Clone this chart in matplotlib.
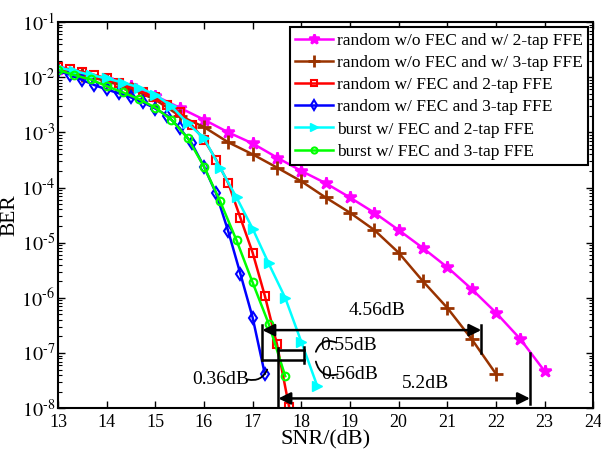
import matplotlib
matplotlib.use('Agg')
import matplotlib.pyplot as plt
from matplotlib.ticker import FuncFormatter
import numpy as np

''' data read off the figure '''
snr_half = [13, 13.5, 14, 14.5, 15, 15.5, 16, 16.5, 17, 17.5, 18, 18.5, 19, 19.5,
            20, 20.5, 21, 21.5, 22, 22.5, 23]
ber_nofec_2tap = [1.4e-2, 1.15e-2, 9e-3, 6.8e-3, 4.6e-3, 2.8e-3, 1.7e-3, 1.0e-3, 6.3e-4,
                  3.5e-4, 2.0e-4, 1.2e-4, 6.6e-5, 3.5e-5, 1.7e-5, 8e-6, 3.6e-6, 1.45e-6,
                  5.4e-7, 1.8e-7, 4.7e-8]
snr_nofec_3tap = [13, 13.5, 14, 14.5, 15, 15.5, 16, 16.5, 17, 17.5, 18, 18.5, 19, 19.5,
                  20, 20.5, 21, 21.5, 22]
ber_nofec_3tap = [1.4e-2, 1.1e-2, 8.5e-3, 6.2e-3, 3.9e-3, 2.0e-3, 1.25e-3, 6.6e-4, 4e-4,
                  2.3e-4, 1.3e-4, 6.6e-5, 3.5e-5, 1.7e-5, 6.6e-6, 2.0e-6, 6.6e-7, 1.8e-7,
                  4.2e-8]

snr_fec_2tap = [13, 13.25, 13.5, 13.75, 14, 14.25, 14.5, 14.75, 15, 15.25, 15.5, 15.75,
                16, 16.25, 16.5, 16.75, 17, 17.25, 17.5, 17.75]
ber_fec_2tap = [1.5e-2, 1.4e-2, 1.25e-2, 1.1e-2, 9.5e-3, 8e-3, 6.5e-3, 5.3e-3, 4.3e-3,
                3.2e-3, 2.3e-3, 1.35e-3, 7.4e-4, 3.2e-4, 1.2e-4, 2.8e-5, 6.6e-6, 1.1e-6,
                1.45e-7, 1.05e-8]
snr_fec_3tap = [13, 13.25, 13.5, 13.75, 14, 14.25, 14.5, 14.75, 15, 15.25, 15.5, 15.75,
                16, 16.25, 16.5, 16.75, 17, 17.25]
ber_fec_3tap = [1.3e-2, 1.1e-2, 8.9e-3, 7.2e-3, 6.0e-3, 5.1e-3, 4.3e-3, 3.5e-3, 2.7e-3,
                2.0e-3, 1.2e-3, 6.3e-4, 2.4e-4, 7.8e-5, 1.6e-5, 2.7e-6, 4.4e-7, 4.2e-8]

snr_burst_2tap = [13, 13.33, 13.67, 14, 14.33, 14.67, 15, 15.33, 15.67, 16, 16.33, 16.67,
                  17, 17.33, 17.67, 18, 18.33]
ber_burst_2tap = [1.5e-2, 1.3e-2, 1.1e-2, 9.5e-3, 8.0e-3, 6.5e-3, 4.8e-3, 3.0e-3, 1.45e-3,
                  7.8e-4, 2.3e-4, 6.6e-5, 1.8e-5, 4.2e-6, 1.0e-6, 1.6e-7, 2.5e-8]
snr_burst_3tap = [13, 13.33, 13.67, 14, 14.33, 14.67, 15, 15.33, 15.67, 16, 16.33, 16.67,
                  17, 17.33, 17.67]
ber_burst_3tap = [1.35e-2, 1.1e-2, 9.1e-3, 6.9e-3, 5.3e-3, 4.0e-3, 2.8e-3, 1.7e-3, 7.8e-4,
                  2.4e-4, 5.7e-5, 1.1e-5, 1.9e-6, 3.4e-7, 3.8e-8]

labels = ['random w/o FEC and w/ 2-tap FFE', 'random w/o FEC and w/ 3-tap FFE',
          'random w/ FEC and 2-tap FFE', 'random w/ FEC and 3-tap FFE',
          'burst w/ FEC and 2-tap FFE', 'burst w/ FEC and 3-tap FFE']

plt.rcParams['font.family'] = ['Liberation Serif', 'DejaVu Serif']
plt.rcParams['mathtext.fontset'] = 'stix'

fig = plt.figure(figsize=(6.01, 4.5), dpi=100)
ax = fig.add_axes([0.0965, 0.093, 0.8905, 0.858])

ax.semilogy(snr_half, ber_nofec_2tap, color='#FF00FF', lw=1.8, marker='*', ms=9, mew=1.8,
            label=labels[0])
ax.semilogy(snr_nofec_3tap, ber_nofec_3tap, color='#993300', lw=1.8, marker='+', ms=10, mew=2,
            label=labels[1])
ax.semilogy(snr_fec_2tap, ber_fec_2tap, color='#FF0000', lw=1.8, marker='s', ms=6, mew=1.5,
            mfc='none', label=labels[2])
ax.semilogy(snr_fec_3tap, ber_fec_3tap, color='#0000FF', lw=1.8, marker='d', ms=6.5, mew=1.5,
            mfc='none', label=labels[3])
ax.semilogy(snr_burst_2tap, ber_burst_2tap, color='#00FFFF', lw=1.8, marker='>', ms=7,
            label=labels[4])
ax.semilogy(snr_burst_3tap, ber_burst_3tap, color='#00FF00', lw=1.8, marker='o', ms=5.5, mew=1.5,
            mfc='none', label=labels[5])

ax.set_xlim(13, 24)
ax.set_ylim(1e-8, 1e-1)
ax.set_xticks(np.arange(13, 25, 1))
ax.yaxis.set_major_formatter(FuncFormatter(lambda v, p: r'$10^{\text{-}%d}$' % round(-np.log10(v))))
ax.tick_params(which='both', direction='in', top=True, right=True)
ax.tick_params(axis='x', labelsize=13, pad=4)
ax.tick_params(axis='y', labelsize=14.5, pad=2)
ax.tick_params(which='major', length=5, width=1)
ax.tick_params(which='minor', length=3, width=0.8)
for s in ax.spines.values():
    s.set_linewidth(1.5)
ax.set_xlabel('SNR/(dB)', fontsize=16, labelpad=0)
ax.set_ylabel('BER', fontsize=15.5)
ax.yaxis.set_label_coords(-0.072, 0.5)

leg = ax.legend(loc='upper right', fontsize=12.5, handlelength=2.2, borderaxespad=0.3,
                labelspacing=0.35, fancybox=False, framealpha=1, borderpad=0.3,
                handletextpad=0.2, markerscale=0.8)
leg.get_frame().set_edgecolor('black')
leg.get_frame().set_linewidth(1.5)

''' annotations '''
k = dict(color='black', lw=1.8)
ah = dict(arrowstyle='<|-|>', color='black', lw=1.8, mutation_scale=18, shrinkA=0, shrinkB=0)
# 4.56dB
ax.annotate('', xy=(17.2, 2.6e-7), xytext=(21.7, 2.6e-7), arrowprops=ah)
ax.plot([21.7, 21.7], [3.2e-7, 1e-7], **k)
ax.plot([17.2, 17.2], [3.2e-7, 7.4e-8], **k)
ax.text(19.55, 4.2e-7, '4.56dB', fontsize=14, ha='center', va='bottom')
# 5.2dB
ax.annotate('', xy=(17.53, 1.5e-8), xytext=(22.7, 1.5e-8), arrowprops=ah)
ax.plot([17.53, 17.53], [1.23e-7, 1.1e-8], **k)
ax.plot([22.7, 22.7], [1e-7, 1.2e-8], **k)
ax.text(20.55, 2.0e-8, '5.2dB', fontsize=14, ha='center', va='bottom')
# small brackets
ax.plot([17.2, 18.06], [7.4e-8, 7.4e-8], **k)
ax.plot([17.53, 18.06], [1.12e-7, 1.12e-7], **k)
ax.plot([18.06, 18.06], [1.27e-7, 6.5e-8], **k)
ax.text(18.98, 1.35e-7, '0.55dB', fontsize=14, ha='center', va='center')
ax.text(19.0, 4.0e-8, '0.56dB', fontsize=14, ha='center', va='center')
ax.text(16.35, 3.3e-8, '0.36dB', fontsize=14, ha='center', va='center')
cs = dict(arrowstyle='-', color='black', lw=1.3, shrinkA=0, shrinkB=0)
ax.annotate('', xy=(18.72, 1.55e-7), xytext=(18.3, 1.05e-7),
            arrowprops=dict(connectionstyle='arc3,rad=-0.5', **cs))
ax.annotate('', xy=(18.3, 7.0e-8), xytext=(18.75, 4.1e-8),
            arrowprops=dict(connectionstyle='arc3,rad=-0.5', **cs))
ax.annotate('', xy=(16.9, 3.3e-8), xytext=(17.3, 5.0e-8),
            arrowprops=dict(connectionstyle='arc3,rad=-0.4', **cs))

plt.savefig('out.png', dpi=100)
